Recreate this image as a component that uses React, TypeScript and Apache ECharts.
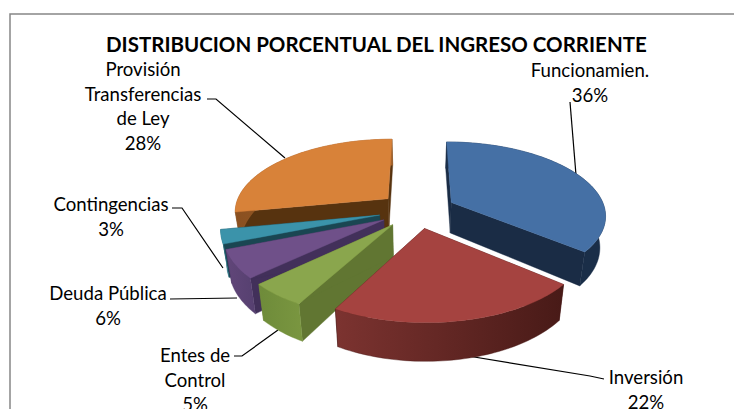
import React, { useEffect, useRef } from "react";
import * as echarts from "echarts";

const titleText = "DISTRIBUCION PORCENTUAL DEL INGRESO CORRIENTE";
const categories = ["Funcionamien.", "Inversión", "Entes de\nControl", "Deuda Pública", "Contingencias", "Provisión\nTransferencias\nde Ley"];
const values = [36, 22, 5, 6, 3, 28];
const topColors = ["#4570a5", "#a54340", "#8aa64d", "#6f5089", "#3b93aa", "#d88239"];
const cutColors = ["#1a2c45", "#451a18", "#617632", "#42305a", "#1a4652", "#57330f"];
const wallLeft = ["#1a2e48", "#7c3330", "#6e8b3a", "#614679", "#2a7486", "#8a5020"];
const wallRight = ["#1a2e48", "#481a17", "#7a9640", "#564070", "#2a7486", "#a5632a"];
const paintOrder = [0, 5, 4, 3, 2, 1];
const labelX = [590, 646, 195, 108, 111, 143];
const labelY = [58, 365, 343, 281, 192, 57];
const leaders = [
  [[570, 102], [576, 175]],
  [[462, 355], [590, 376], [604, 379]],
  [[234, 356], [242, 356], [278, 330]],
  [[170, 299], [237, 298]],
  [[172, 208], [182, 208], [223, 268]],
  [[207, 99], [216, 99], [285, 158]],
];

const CX = 417, CY = 210, RX = 154, RY = 72.4, P = 0.16, DEPTH = 31, EXPLODE = 0.25, BASE_SCALE = 0.97;
const total = values.reduce((a, b) => a + b, 0);

function project(x: number, y: number) {
  const w = 1 - P * y;
  return { x: CX + (RX * x) / w, y: CY + (RY * y) / w, d: DEPTH / w };
}

function sliceShapes(i: number) {
  const before = values.slice(0, i).reduce((a, b) => a + b, 0);
  const a0 = (before / total) * Math.PI * 2;
  const a1 = ((before + values[i]) / total) * Math.PI * 2;
  const mid = (a0 + a1) / 2;
  const ox = EXPLODE * Math.sin(mid), oy = -EXPLODE * Math.cos(mid);
  const apex = project(ox, oy);
  const arc: { x: number; y: number; d: number }[] = [];
  const steps = Math.max(6, Math.ceil((a1 - a0) * 40));
  for (let k = 0; k <= steps; k++) {
    const a = a0 + ((a1 - a0) * k) / steps;
    arc.push(project(ox + Math.sin(a), oy - Math.cos(a)));
  }
  const pt = (p: { x: number; y: number }) => [p.x, p.y];
  const low = (p: { x: number; y: number; d: number }) => [CX + (p.x - CX) * BASE_SCALE, p.y + p.d];
  const first = arc[0], last = arc[arc.length - 1];
  const gradient = new echarts.graphic.LinearGradient(
    0, 0, 1, 0,
    [{ offset: 0, color: wallLeft[i] }, { offset: 1, color: wallRight[i] }]
  );
  const poly = (points: number[][], fill: any) => ({
    type: "polygon",
    silent: true,
    shape: { points },
    style: { fill, stroke: fill === gradient ? wallRight[i] : fill, lineWidth: 0.4 },
  });
  return [
    poly([pt(apex), pt(first), low(first), low(apex)], cutColors[i]),
    poly([pt(apex), pt(last), low(last), low(apex)], cutColors[i]),
    poly([...arc.map(pt), ...arc.slice().reverse().map(low)], gradient),
    poly([pt(apex), ...arc.map(pt)], topColors[i]),
  ];
}

export default function App() {
  const ref = useRef<HTMLDivElement>(null);
  useEffect(() => {
    if (!ref.current) return;
    const chart = echarts.init(ref.current, undefined, { renderer: "svg" });
    const font = "Lato";
    chart.setOption({
      animation: false,
      backgroundColor: "#ffffff",
      title: {
        text: titleText,
        left: 106,
        top: 33,
        padding: 0,
        textStyle: { fontFamily: font, fontWeight: "bold", fontSize: 20.5, color: "#000000" },
      },
      graphic: [
        {
          type: "rect",
          silent: true,
          shape: { x: 10, y: 14, width: 900, height: 600 },
          style: { fill: "none", stroke: "#868686", lineWidth: 1.5 },
        },
        ...leaders.map((points) => ({
          type: "polyline",
          silent: true,
          shape: { points },
          style: { fill: "none", stroke: "#000000", lineWidth: 1.2 },
        })),
        ...categories.map((c, i) => ({
          type: "text",
          silent: true,
          x: labelX[i],
          y: labelY[i],
          style: {
            text: `${c}\n${values[i]}%`,
            fontFamily: font,
            fontSize: 18.6,
            lineHeight: 24.5,
            fill: "#000000",
            align: "center",
            verticalAlign: "top",
          },
        })),
      ],
      series: [
        {
          type: "custom",
          coordinateSystem: "none",
          clip: false,
          silent: true,
          data: paintOrder.map((i) => [i, values[i]]),
          renderItem: (_p: any, api: any) => ({
            type: "group",
            children: sliceShapes(api.value(0)),
          }),
        },
      ],
    });
    return () => chart.dispose();
  }, []);
  return <div ref={ref} style={{ position: "absolute", left: 0, top: 0, width: 734, height: 409 }} />;
}
